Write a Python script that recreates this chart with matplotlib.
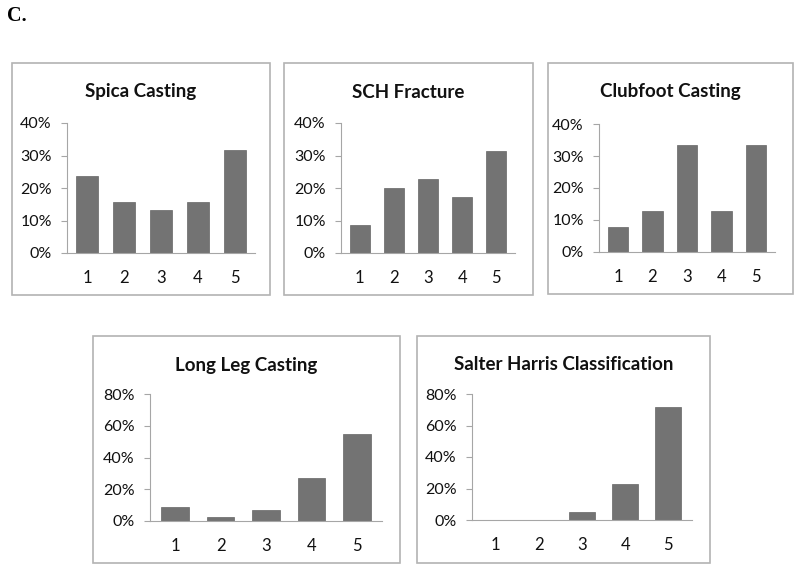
import matplotlib
matplotlib.use("Agg")
import matplotlib.pyplot as plt
from matplotlib.patches import Rectangle

# Data
categories = [1, 2, 3, 4, 5]
spica_casting = [23.7, 15.8, 13.2, 15.8, 31.6]
sch_fracture = [8.6, 20.0, 22.9, 17.1, 31.4]
clubfoot_casting = [7.7, 12.8, 33.3, 12.8, 33.3]
long_leg_casting = [9.1, 2.3, 6.8, 27.3, 54.5]
salter_harris = [0.0, 0.0, 5.0, 23.0, 72.0]

W, H = 800, 574
BAR = "#737373"
FRAME = "#b3b3b3"
AXIS = "#a6a6a6"
FONT = ["Lato", "DejaVu Sans"]

fig = plt.figure(figsize=(W / 100, H / 100), dpi=100)


# pixel box -> figure rect
def px_rect(x0, y0, x1, y1):
    return [x0 / W, 1 - y1 / H, (x1 - x0) / W, (y1 - y0) / H]


def panel(box, axbox, title, values, ymax, ystep):
    # outer frame of each little chart
    fx0, fy0, fx1, fy1 = box
    fig.add_artist(Rectangle((fx0 / W, 1 - fy1 / H), (fx1 - fx0) / W, (fy1 - fy0) / H,
                             transform=fig.transFigure, fill=False,
                             edgecolor=FRAME, linewidth=1.2))
    fig.text((fx0 + fx1) / 2 / W, 1 - (fy0 + 29) / H, title, ha="center", va="center",
             fontsize=13.5, fontweight="bold", family=FONT, color="#111111")

    ax = fig.add_axes(px_rect(*axbox))
    ax.bar(categories, values, width=0.6, color=BAR, edgecolor="#666666", linewidth=0.5)
    ax.set_xlim(0.45, 5.55)
    ax.set_ylim(0, ymax)
    ticks = list(range(0, ymax + 1, ystep))
    ax.set_yticks(ticks)
    ax.set_yticklabels([f"{t}%" for t in ticks])
    ax.set_xticks(categories)
    ax.set_xticklabels([str(c) for c in categories])
    for s in ["top", "right"]:
        ax.spines[s].set_visible(False)
    ax.spines["left"].set_color(AXIS)
    ax.spines["bottom"].set_color(AXIS)
    ax.tick_params(axis="y", length=4, color=AXIS, pad=7, labelsize=11.5)
    ax.tick_params(axis="x", length=0, pad=12, labelsize=12)
    for lab in ax.get_xticklabels() + ax.get_yticklabels():
        lab.set_family(FONT)
        lab.set_color("#111111")
    return ax


panel((12, 63, 270, 295), (67, 123, 255, 253), "Spica Casting", spica_casting, 40, 10)
panel((284, 63, 533, 295), (341, 123, 515, 253), "SCH Fracture", sch_fracture, 40, 10)
panel((548, 63, 793, 294), (599, 124, 775, 252), "Clubfoot Casting", clubfoot_casting, 40, 10)
panel((93, 336, 400, 563), (150, 394, 382, 521), "Long Leg Casting", long_leg_casting, 80, 20)
panel((417, 336, 710, 563), (472, 394, 692, 520), "Salter Harris Classification", salter_harris, 80, 20)

fig.text(7 / W, 1 - 16 / H, "C.", ha="left", va="center", fontsize=14.5,
         fontweight="bold", family=["Liberation Serif", "DejaVu Serif"])

fig.savefig("out.png", dpi=100, facecolor="white")
